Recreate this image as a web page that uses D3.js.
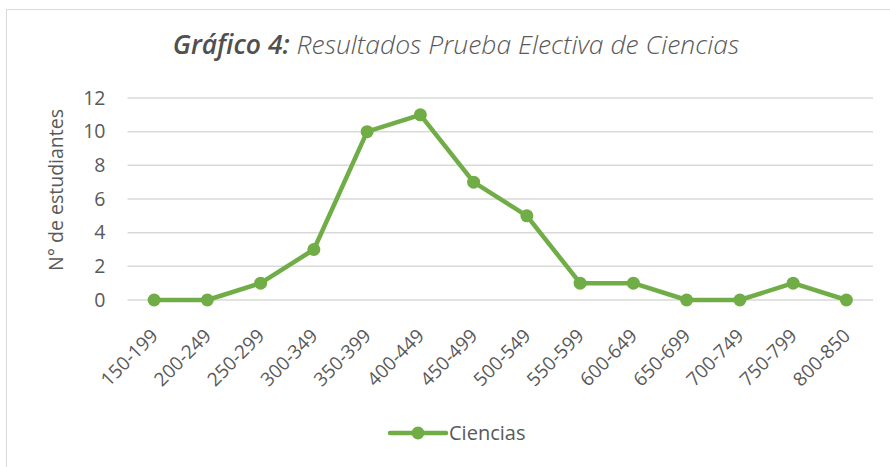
<!DOCTYPE html>
<html>
<head>
<meta charset="utf-8">
<script src="https://cdn.jsdelivr.net/npm/d3@7"></script>
<style>
  body { margin: 0; background: #fff; }
  text { font-family: "Open Sans", "Noto Sans", sans-serif; fill: #595959; }
</style>
</head>
<body>
<div id="chart"></div>
<script>
const width = 890;
const height = 467;

const categories = ["150-199","200-249","250-299","300-349","350-399","400-449","450-499",
                    "500-549","550-599","600-649","650-699","700-749","750-799","800-850"];
const ciencias = [0, 0, 1, 3, 10, 11, 7, 5, 1, 1, 0, 0, 1, 0];
const yTicks = [0, 2, 4, 6, 8, 10, 12];

const green = "#70ad47";

const margin = {top: 98, right: 17, bottom: 167, left: 127.5};

const svg = d3.select("#chart").append("svg")
   .attr("width", width)
   .attr("height", height);

// chart area border (runs off the right and bottom edges)
svg.append("rect")
   .attr("x", 6.5)
   .attr("y", 9.5)
   .attr("width", width + 20)
   .attr("height", height + 20)
   .attr("fill", "none")
   .attr("stroke", "#d9d9d9")
   .attr("stroke-width", 1);

const x = d3.scaleBand()
   .domain(categories)
   .range([margin.left, width - margin.right]);

const y = d3.scaleLinear()
   .domain([0, 12])
   .range([height - margin.bottom, margin.top]);

// title
const title = svg.append("text")
   .attr("x", 456)
   .attr("y", 54)
   .attr("text-anchor", "middle")
   .style("font-size", "26.5px")
   .style("font-style", "italic");
title.append("tspan").style("font-weight", 600).style("fill", "#505050").text("Gráfico 4:");
title.append("tspan").style("font-weight", 300).text(" Resultados Prueba Electiva de Ciencias");

// gridlines
svg.append("g")
   .selectAll("line")
   .data(yTicks)
   .join("line")
   .attr("x1", margin.left)
   .attr("x2", width - margin.right)
   .attr("y1", d => y(d))
   .attr("y2", d => y(d))
   .attr("stroke", "#d9d9d9")
   .attr("stroke-width", 1.5);

// y axis
const yAxis = d3.axisLeft(y)
   .tickValues(yTicks)
   .tickSize(0)
   .tickPadding(22);

svg.append("g")
   .attr("transform", `translate(${margin.left},0)`)
   .call(yAxis)
   .call(g => g.select(".domain").remove())
   .call(g => g.selectAll("text")
      .style("font-size", "19.5px")
      .style("font-family", null)
      .attr("fill", "#595959"));

svg.append("text")
   .attr("transform", "translate(63,190) rotate(-90)")
   .attr("text-anchor", "middle")
   .style("font-size", "19.5px")
   .text("N° de estudiantes");

// x axis labels
const cx = d => x(d) + x.bandwidth() / 2;

svg.append("g")
   .selectAll("text")
   .data(categories)
   .join("text")
   .attr("transform", d => `translate(${cx(d) + 5},${y(0) + 37}) rotate(-45)`)
   .attr("text-anchor", "end")
   .style("font-size", "19px")
   .text(d => d);

// line
const line = d3.line()
   .x((d, i) => cx(categories[i]))
   .y(d => y(d));

svg.append("path")
   .datum(ciencias)
   .attr("d", line)
   .attr("fill", "none")
   .attr("stroke", green)
   .attr("stroke-width", 4.5)
   .attr("stroke-linejoin", "round");

svg.append("g")
   .selectAll("circle")
   .data(ciencias)
   .join("circle")
   .attr("cx", (d, i) => cx(categories[i]))
   .attr("cy", d => y(d))
   .attr("r", 6.5)
   .attr("fill", green);

// legend
const legend = svg.append("g").attr("transform", "translate(390,433)");
legend.append("line")
   .attr("x1", 0).attr("x2", 56)
   .attr("stroke", green)
   .attr("stroke-width", 4.5)
   .attr("stroke-linecap", "round");
legend.append("circle")
   .attr("cx", 28).attr("r", 6.5)
   .attr("fill", green);
legend.append("text")
   .attr("x", 59)
   .attr("y", 7)
   .style("font-size", "20px")
   .text("Ciencias");
</script>
</body>
</html>
